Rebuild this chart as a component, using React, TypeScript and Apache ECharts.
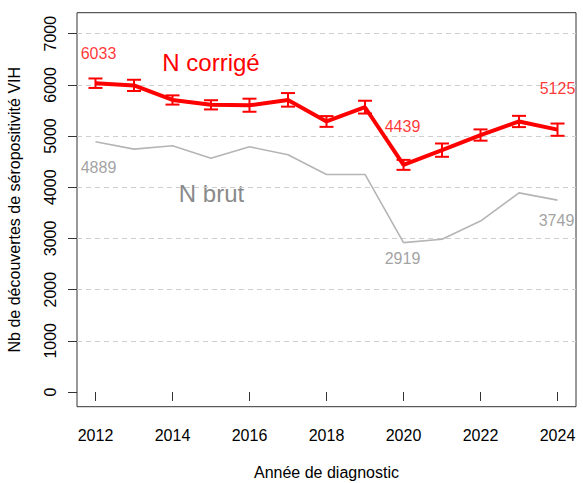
import React, { useEffect, useRef } from "react";
import * as echarts from "echarts";

const years = [2012, 2013, 2014, 2015, 2016, 2017, 2018, 2019, 2020, 2021, 2022, 2023, 2024];
const nCorrige = [6033, 5990, 5706, 5610, 5600, 5706, 5285, 5563, 4439, 4725, 5020, 5285, 5125];
const corrLow = [5940, 5880, 5615, 5520, 5475, 5575, 5180, 5440, 4340, 4595, 4910, 5175, 5005];
const corrHigh = [6125, 6100, 5795, 5700, 5730, 5840, 5390, 5690, 4535, 4855, 5130, 5395, 5245];
const nBrut = [4889, 4745, 4810, 4565, 4790, 4635, 4250, 4250, 2919, 2985, 3340, 3890, 3749];
const yTicks = [0, 1000, 2000, 3000, 4000, 5000, 6000, 7000];
const gridValues = [1000, 2000, 3000, 4000, 5000, 6000, 7000];
const xTicks = [2012, 2014, 2016, 2018, 2020, 2022, 2024];
const corrLabelIdx = [0, 8, 12];
const brutLabelIdx = [0, 8, 12];

const FONT = "'Liberation Sans', Arial, sans-serif";
const RED = "#ff0000";
const GREY_LINE = "#b5b5b5";
const GREY_TEXT = "#8a8a8a";
const AXIS = "#333333";

export default function App() {
  const ref = useRef<HTMLDivElement>(null);
  useEffect(() => {
    if (!ref.current) return;
    const chart = echarts.init(ref.current, undefined, { renderer: "svg" });
    const corrOffsets: Record<number, [number, number]> = { 0: [3, -30], 8: [-1, -38], 12: [0, -41] };
    const brutOffsets: Record<number, [number, number]> = { 0: [3, 26], 8: [-1, 16], 12: [-1, 20] };
    const option: any = {
      animation: false,
      textStyle: { fontFamily: FONT },
      grid: {
        left: 77,
        right: 7,
        top: 12.7,
        bottom: 76.3,
        containLabel: false,
        outerBoundsMode: "none",
        show: true,
        borderColor: AXIS,
        borderWidth: 1,
        backgroundColor: "transparent",
      },
      xAxis: {
        type: "value",
        min: 2011.52,
        max: 2024.48,
        name: "Année de diagnostic",
        nameLocation: "middle",
        nameGap: 58,
        nameTextStyle: { fontSize: 16, color: "#000", fontFamily: FONT },
        axisLine: { show: false },
        axisTick: { show: true, customValues: xTicks, length: 9, lineStyle: { color: AXIS } },
        axisLabel: {
          customValues: xTicks,
          formatter: (v: number) => String(v),
          fontSize: 16,
          color: "#000",
          margin: 21,
          fontFamily: FONT,
        },
        splitLine: { show: false },
      },
      yAxis: {
        type: "value",
        min: -287,
        max: 7410,
        name: "Nb de découvertes de séropositivité VIH",
        nameLocation: "middle",
        nameGap: 55,
        nameTextStyle: { fontSize: 16, color: "#000", fontFamily: FONT },
        axisLine: { show: false },
        axisTick: { show: true, customValues: yTicks, length: 9, lineStyle: { color: AXIS } },
        axisLabel: {
          customValues: yTicks,
          formatter: (v: number) => String(v),
          rotate: 90,
          fontSize: 16,
          color: "#000",
          margin: 19,
          fontFamily: FONT,
        },
        splitLine: { show: false },
      },
      graphic: [
        {
          type: "text",
          x: 211,
          y: 62,
          style: {
            text: "N corrigé",
            fill: RED,
            fontSize: 24,
            fontFamily: FONT,
            textAlign: "center",
            textVerticalAlign: "middle",
          },
        },
        {
          type: "text",
          x: 211.5,
          y: 193,
          style: {
            text: "N brut",
            fill: GREY_TEXT,
            fontSize: 24,
            fontFamily: FONT,
            textAlign: "center",
            textVerticalAlign: "middle",
          },
        },
      ],
      series: [
        {
          type: "line",
          name: "N brut",
          data: years.map((y, i) => [y, nBrut[i]]),
          symbol: "none",
          lineStyle: { color: GREY_LINE, width: 1.6 },
          silent: true,
          z: 2,
          markLine: {
            silent: true,
            symbol: ["none", "none"],
            label: { show: false },
            lineStyle: { color: "#cfcfcf", width: 1, type: [5, 4] },
            data: gridValues.map((v) => ({ yAxis: v })),
            z: 1,
          },
        },
        {
          type: "line",
          name: "N corrigé",
          data: years.map((y, i) => [y, nCorrige[i]]),
          symbol: "none",
          lineStyle: { color: RED, width: 4 },
          silent: true,
          z: 4,
        },
        {
          type: "custom",
          name: "IC",
          data: years.map((y, i) => [y, corrLow[i], corrHigh[i]]),
          silent: true,
          z: 5,
          renderItem: (params: any, api: any) => {
            const x = api.value(0);
            const lo = api.coord([x, api.value(1)]);
            const hi = api.coord([x, api.value(2)]);
            const hw = 7;
            const style = { stroke: RED, lineWidth: 2 };
            return {
              type: "group",
              children: [
                { type: "line", shape: { x1: lo[0], y1: lo[1], x2: hi[0], y2: hi[1] }, style },
                { type: "line", shape: { x1: lo[0] - hw, y1: lo[1], x2: lo[0] + hw, y2: lo[1] }, style },
                { type: "line", shape: { x1: hi[0] - hw, y1: hi[1], x2: hi[0] + hw, y2: hi[1] }, style },
              ],
            };
          },
        },
        {
          type: "scatter",
          name: "labels corrigé",
          symbolSize: 1,
          itemStyle: { color: "transparent" },
          silent: true,
          z: 6,
          data: corrLabelIdx.map((i) => ({
            value: [years[i], nCorrige[i]],
            label: {
              show: true,
              position: "inside",
              offset: corrOffsets[i],
              formatter: String(nCorrige[i]),
              color: RED,
              fontSize: 16,
              fontFamily: FONT,
            },
          })),
        },
        {
          type: "scatter",
          name: "labels brut",
          symbolSize: 1,
          itemStyle: { color: "transparent" },
          silent: true,
          z: 6,
          data: brutLabelIdx.map((i) => ({
            value: [years[i], nBrut[i]],
            label: {
              show: true,
              position: "inside",
              offset: brutOffsets[i],
              formatter: String(nBrut[i]),
              color: GREY_TEXT,
              fontSize: 16,
              fontFamily: FONT,
            },
          })),
        },
      ],
    };
    chart.setOption(option);
    return () => chart.dispose();
  }, []);
  return (
    <div
      ref={ref}
      style={{ position: "fixed", left: 0, top: 0, width: 583, height: 483, background: "#fff" }}
    />
  );
}
